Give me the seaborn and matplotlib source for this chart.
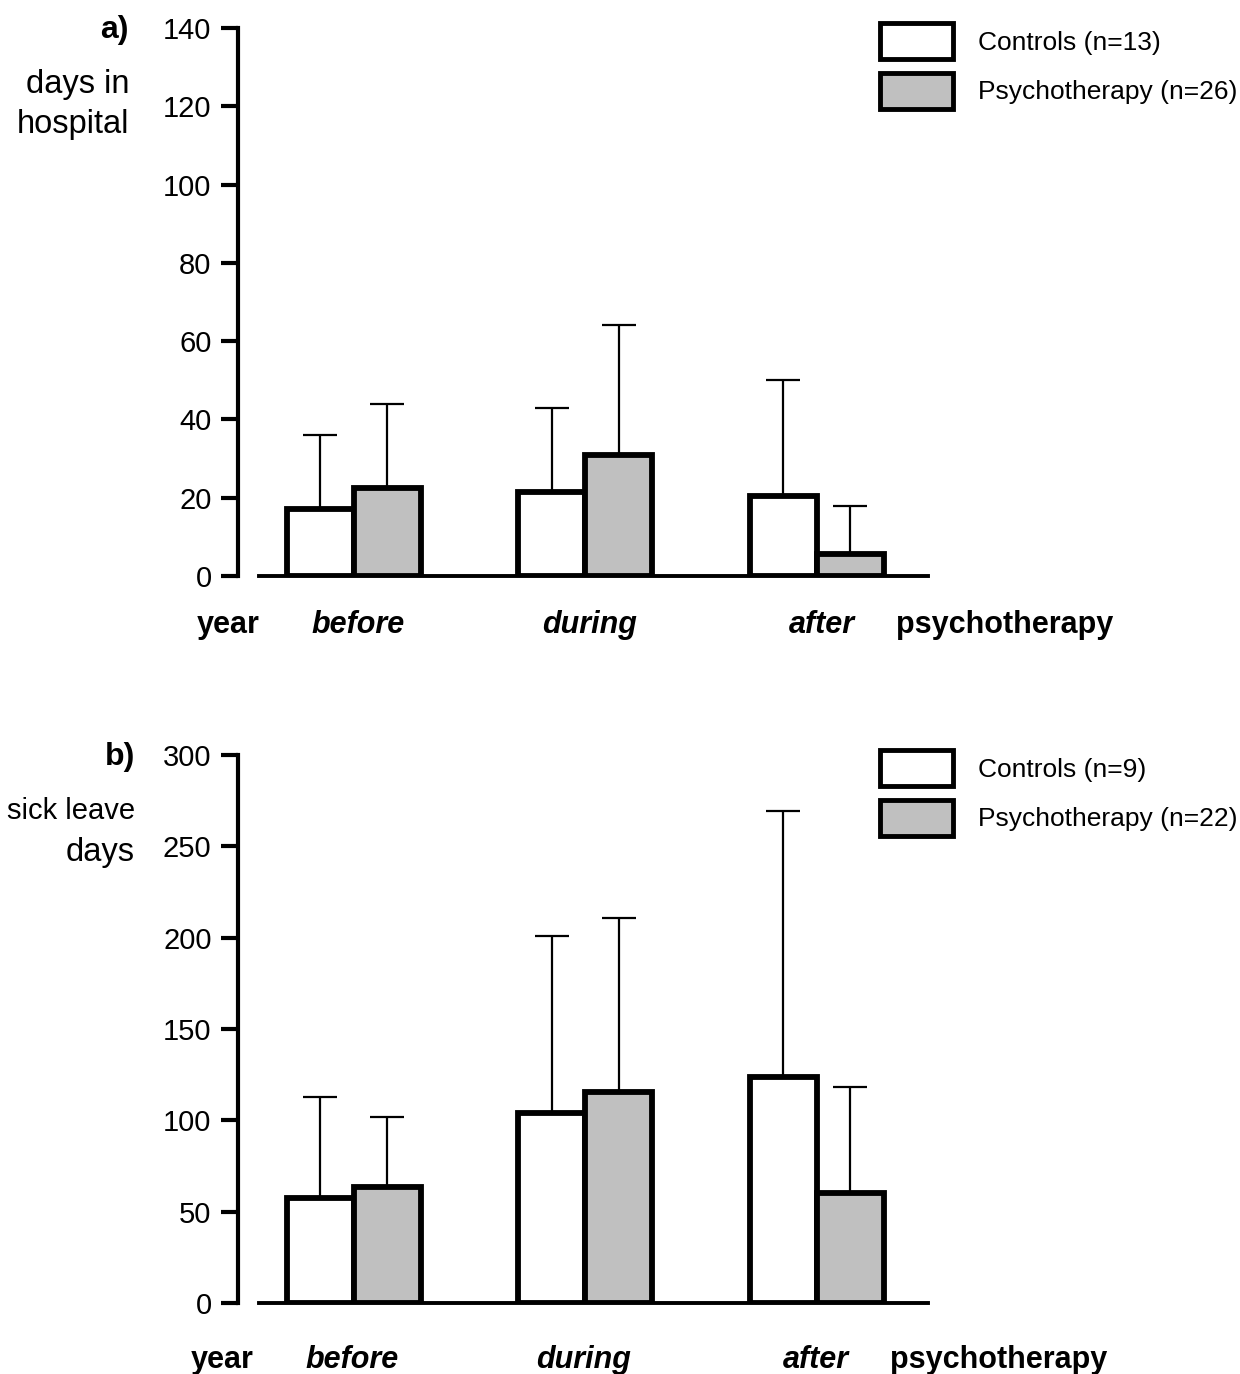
import numpy as np
import pandas as pd
import matplotlib
matplotlib.use("Agg")
import matplotlib.pyplot as plt
from matplotlib.patches import Patch
import seaborn as sns

# values (means and upper SD)
periods = ["before", "during", "after"]
groups = ["Controls", "Psychotherapy"]

hosp_controls = [17.0, 21.5, 20.5]
hosp_controls_sd = [19.0, 21.5, 29.5]
hosp_psych = [22.5, 31.0, 5.5]
hosp_psych_sd = [21.5, 33.0, 12.5]

sick_controls = [57.5, 104.0, 123.5]
sick_controls_sd = [55.5, 97.0, 146.0]
sick_psych = [63.5, 115.5, 60.0]
sick_psych_sd = [38.5, 95.0, 58.5]

hosp_legend = ["Controls (n=13)", "Psychotherapy (n=26)"]
sick_legend = ["Controls (n=9)", "Psychotherapy (n=22)"]

sns.set_style("ticks")
plt.rcParams["font.family"] = ["Liberation Sans", "DejaVu Sans"]
plt.rcParams["text.color"] = "black"
plt.rcParams["axes.edgecolor"] = "black"
plt.rcParams["xtick.color"] = "black"
plt.rcParams["ytick.color"] = "black"
plt.rcParams["axes.labelcolor"] = "black"

colors = {"Controls": "white", "Psychotherapy": "#c0c0c0"}

W, H = 1240, 1374
fig = plt.figure(figsize=(W / 100, H / 100), dpi=100)


def panel(bottom_px, ctrl, ctrl_sd, psy, psy_sd, ymax, ystep, leg_labels, leg_top_px, xlab_off, xlab_y):
    ax = fig.add_axes([238 / W, 1 - bottom_px / H, 690 / W, 548 / H])
    df = pd.DataFrame({
        "period": periods * 2,
        "group": [groups[0]] * 3 + [groups[1]] * 3,
        "days": ctrl + psy,
    })
    sns.barplot(data=df, x="period", y="days", hue="group", order=periods,
                hue_order=groups, palette=colors, saturation=1, width=0.58,
                edgecolor="black", linewidth=4.2, errorbar=None, legend=False,
                ax=ax, zorder=3)

    # upper error bars only
    bars = sorted(ax.patches, key=lambda p: p.get_x())
    errs = [e for pair in zip(ctrl_sd, psy_sd) for e in pair]
    xs = [b.get_x() + b.get_width() / 2 for b in bars]
    hs = [b.get_height() for b in bars]
    ax.errorbar(xs, hs, yerr=[np.zeros(len(errs)), errs], fmt="none",
                ecolor="black", elinewidth=1.6, capsize=12, capthick=1.6, zorder=2)

    ax.set_xlim(-0.5, 2.48)
    ax.set_ylim(0, ymax)
    ax.set_yticks(np.arange(0, ymax + 1, ystep))
    ax.tick_params(axis="y", length=12, width=3, pad=7, labelsize=21)
    ax.tick_params(axis="x", length=0, labelbottom=False)
    ax.set_xlabel("")
    ax.set_ylabel("")
    for s in ["top", "right"]:
        ax.spines[s].set_visible(False)
    ax.spines["left"].set_linewidth(3)
    ax.spines["bottom"].set_linewidth(2.8)
    ax.spines["bottom"].set_bounds(-0.41, 2.48)

    # category labels under the baseline
    tr = ax.get_xaxis_transform()
    ax.text(-0.543 + xlab_off, xlab_y, "year", transform=tr, ha="center", va="center",
            fontsize=22, fontweight="bold")
    for i, p in enumerate(periods):
        ax.text(i + 0.02 + xlab_off, xlab_y, p, transform=tr, ha="center", va="center",
                fontsize=22, fontweight="bold", fontstyle="italic")
    ax.text(2.34 + xlab_off, xlab_y, "psychotherapy", transform=tr, ha="left", va="center",
            fontsize=22, fontweight="bold")

    handles = [Patch(facecolor=colors[g], edgecolor="black", linewidth=3.5) for g in groups]
    ax.legend(handles, leg_labels, loc="upper left",
              bbox_to_anchor=(880 / W, 1 - leg_top_px / H), bbox_transform=fig.transFigure,
              frameon=False, fontsize=19, handlelength=2.75, handleheight=1.75,
              labelspacing=0.5, handletextpad=0.95, borderpad=0, borderaxespad=0)
    return ax


ax1 = panel(576, hosp_controls, hosp_controls_sd, hosp_psych, hosp_psych_sd,
            140, 20, hosp_legend, 23, 0.0, -0.089)
ax2 = panel(1303, sick_controls, sick_controls_sd, sick_psych, sick_psych_sd,
            300, 50, sick_legend, 750, -0.026, -0.104)

# panel tags and y labels
fig.text(129 / W, 1 - 30 / H, "a)", ha="right", va="center", fontsize=23, fontweight="bold")
fig.text(129 / W, 1 - 84 / H, "days in", ha="right", va="center", fontsize=23.5)
fig.text(129 / W, 1 - 124 / H, "hospital", ha="right", va="center", fontsize=23.5)

fig.text(135 / W, 1 - 757 / H, "b)", ha="right", va="center", fontsize=23, fontweight="bold")
fig.text(135 / W, 1 - 811 / H, "sick leave", ha="right", va="center", fontsize=21)
fig.text(135 / W, 1 - 852 / H, "days", ha="right", va="center", fontsize=23.5)

fig.savefig("out.png", dpi=100)
